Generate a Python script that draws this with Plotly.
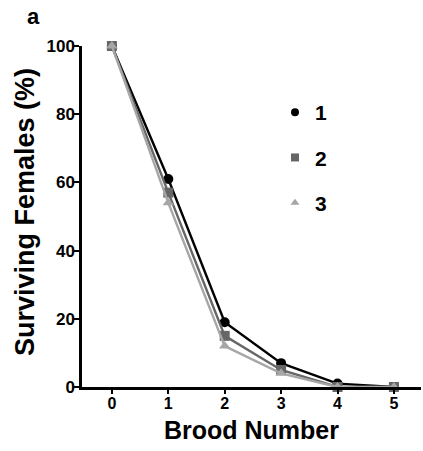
import plotly.graph_objects as go

brood = [0, 1, 2, 3, 4, 5]
s1 = [100, 61, 19, 7, 1, 0]
s2 = [100, 57, 15, 5, 0, 0]
s3 = [100, 54, 12, 4, 0, 0]
names = ["1", "2", "3"]
colors = ["#000000", "#666666", "#a6a6a6"]
symbols = ["circle", "square", "triangle-up"]
series = [s1, s2, s3]

FONT = "Liberation Sans, Arial, sans-serif"
PW, PH = 339, 341  # plot area size in px

fig = go.Figure()
for i, ys in enumerate(series):
    fig.add_trace(go.Scatter(
        x=brood, y=ys, mode="lines+markers", showlegend=False,
        line=dict(color=colors[i], width=2.4),
        marker=dict(symbol=symbols[i], size=10, color=colors[i]),
        cliponaxis=False,
    ))
# legend-only marker traces
for i in range(3):
    fig.add_trace(go.Scatter(
        x=[None], y=[None], mode="markers", name=names[i],
        legendgroup=names[i],
        marker=dict(symbol=symbols[i], size=8, color=colors[i]),
    ))

fig.update_layout(
    width=423, height=451,
    margin=dict(l=82, r=2, t=46, b=64),
    paper_bgcolor="white", plot_bgcolor="white",
    font=dict(family=FONT, color="black"),
    legend=dict(x=(275 - 82) / PW, y=(387 - 92) / PH, xanchor="left", yanchor="top",
                font=dict(size=21, weight="bold", family=FONT),
                tracegroupgap=15, itemwidth=30, bgcolor="rgba(0,0,0,0)"),
    annotations=[
        dict(text="a", x=(25 - 82) / PW, y=(387 - 16) / PH, xref="paper", yref="paper",
             showarrow=False, font=dict(size=22, weight="bold"),
             xanchor="left", yanchor="middle"),
        dict(text="Surviving Females (%)", x=(25 - 82) / PW, y=(387 - 212) / PH,
             xref="paper", yref="paper", showarrow=False, textangle=-90,
             font=dict(size=27, weight="bold"), xanchor="center", yanchor="middle"),
    ],
)
fig.update_xaxes(
    range=[-0.53, 5.48], tickvals=brood, showgrid=False, zeroline=False,
    showline=True, linecolor="black", linewidth=2.5,
    ticks="outside", ticklen=4, tickwidth=2, tickcolor="black",
    tickfont=dict(size=16, weight="bold"), ticklabelstandoff=-4,
    title=dict(text="Brood Number", font=dict(size=25, weight="bold"), standoff=11),
)
fig.update_yaxes(
    range=[0, 100], tickvals=[0, 20, 40, 60, 80, 100], showgrid=False, zeroline=False,
    showline=True, linecolor="black", linewidth=2.5,
    ticks="outside", ticklen=5, tickwidth=2, tickcolor="black",
    tickfont=dict(size=17, weight="bold"), ticklabelstandoff=-4,
)
fig.write_html("out.html")
